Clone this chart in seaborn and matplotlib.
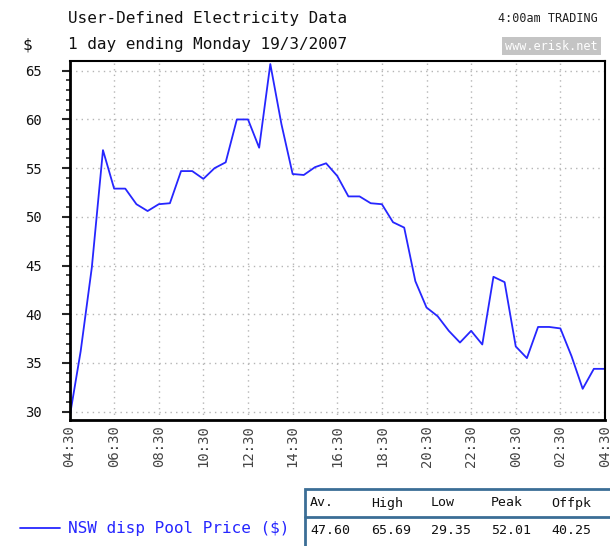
import pandas as pd
import matplotlib.pyplot as plt
import seaborn as sns

# half-hourly NSW pool price, 04:30 -> 04:30 next day
prices = [29.35, 36.2, 44.8, 56.85, 52.9, 52.9, 51.3, 50.6, 51.3, 51.4,
          54.7, 54.7, 53.9, 55.0, 55.6, 60.0, 60.0, 57.1, 65.69, 59.5,
          54.4, 54.3, 55.1, 55.5, 54.2, 52.1, 52.1, 51.4, 51.3, 49.45,
          48.9, 43.4, 40.7, 39.8, 38.3, 37.1, 38.3, 36.9, 43.85, 43.3,
          36.7, 35.5, 38.7, 38.7, 38.55, 35.7, 32.35, 34.4, 34.4]
tick_labels = ["04:30", "06:30", "08:30", "10:30", "12:30", "14:30", "16:30",
               "18:30", "20:30", "22:30", "00:30", "02:30", "04:30"]
y_ticks = [30, 35, 40, 45, 50, 55, 60, 65]
stat_names = ["Av.", "High", "Low", "Peak", "Offpk"]
stat_values = ["47.60", "65.69", "29.35", "52.01", "40.25"]

series_name = "NSW disp Pool Price ($)"
line_color = "#2626ff"
mono = "DejaVu Sans Mono"

sns.set_style("white")
plt.rcParams["font.family"] = [mono, "DejaVu Sans"]

df = pd.DataFrame({"step": range(len(prices)), "price": prices})

fig = plt.figure(figsize=(6.1, 5.46), dpi=100)
ax = fig.add_axes([69.5 / 610, 1 - 419.5 / 546, (605 - 69.5) / 610, (419.5 - 61) / 546])
sns.lineplot(data=df, x="step", y="price", ax=ax, color=line_color, linewidth=1.3)

ax.set_xlim(0, len(prices) - 1)
ax.set_ylim(29.2, 66.0)
ax.set_xticks(range(0, len(prices), 4))
ax.set_xticklabels(tick_labels, rotation=90, fontsize=10, color="#444444")
ax.set_yticks(y_ticks)
ax.set_yticklabels([str(v) for v in y_ticks], fontsize=10, color="#111111")
ax.set_yticks(range(30, 66), minor=True)
ax.tick_params(axis="y", which="major", direction="out", length=6, width=1.5, left=True, pad=14)
ax.tick_params(axis="y", which="minor", direction="out", length=3, width=1.2, left=True)
ax.tick_params(axis="x", length=0, pad=4)
ax.set_xlabel("")
ax.set_ylabel("")
ax.grid(True, color="#b5b5b5", linestyle=(0, (1, 3)), linewidth=1)
for side in ["left", "bottom", "top", "right"]:
    ax.spines[side].set_visible(True)
    ax.spines[side].set_color("black")
    ax.spines[side].set_linewidth(1.5)
ax.spines["left"].set_linewidth(2)
ax.spines["bottom"].set_linewidth(2)

# header texts
fig.text(68 / 610, 1 - 19 / 546, "User-Defined Electricity Data", fontsize=11.5, va="center", color="#111111")
fig.text(68 / 610, 1 - 45 / 546, "1 day ending Monday 19/3/2007", fontsize=11.5, va="center", color="#111111")
fig.text(22 / 610, 1 - 45 / 546, "$", fontsize=11.5, va="center", color="#111111")
fig.text(598 / 610, 1 - 19 / 546, "4:00am TRADING", fontsize=8.5, va="center", ha="right", color="#222222")
fig.text(598 / 610, 1 - 46 / 546, "www.erisk.net", fontsize=8.5, va="center", ha="right", color="white",
         bbox=dict(boxstyle="square,pad=0.25", facecolor="#c4c4c4", edgecolor="none"))

# legend
fig.add_artist(plt.Line2D([20 / 610, 60 / 610], [1 - 528 / 546, 1 - 528 / 546], color=line_color, linewidth=1.3))
fig.text(68 / 610, 1 - 528 / 546, series_name, fontsize=11.5, va="center", color=line_color)

# summary table
border = "#3b6e96"
fig.add_artist(plt.Rectangle((305 / 610, -0.05), 0.6, (546 - 489) / 546 + 0.05, transform=fig.transFigure,
                             facecolor="white", edgecolor=border, linewidth=2))
fig.add_artist(plt.Line2D([305 / 610, 1], [1 - 517 / 546, 1 - 517 / 546], color=border, linewidth=2))
col_x = [310, 371, 431, 491, 551]
for cx, name, val in zip(col_x, stat_names, stat_values):
    fig.text(cx / 610, 1 - 503 / 546, name, fontsize=9.5, va="center", color="#111111")
    fig.text(cx / 610, 1 - 531 / 546, val, fontsize=9.5, va="center", color="#111111")

fig.savefig("out.png", dpi=100)
